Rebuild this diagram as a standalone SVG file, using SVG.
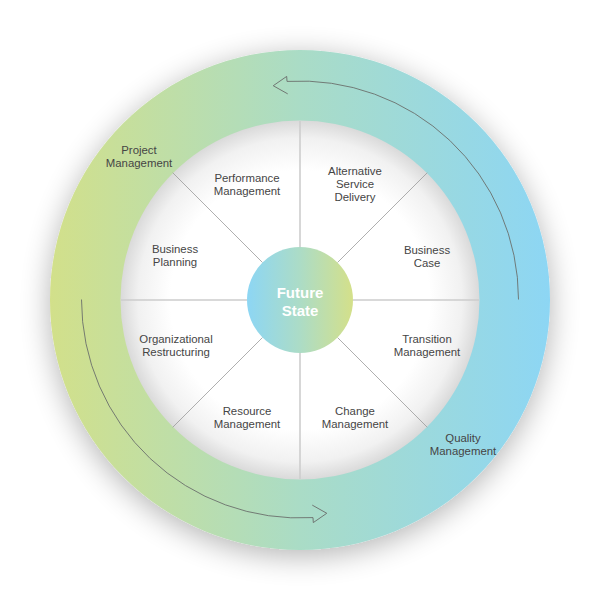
<svg xmlns="http://www.w3.org/2000/svg" width="600" height="600" viewBox="0 0 600 600">
  <defs>
    <linearGradient id="ringGrad" gradientUnits="userSpaceOnUse" x1="50" y1="0" x2="550" y2="0">
      <stop offset="0" stop-color="#d2e08a"/>
      <stop offset="0.5" stop-color="#aadcc6"/>
      <stop offset="1" stop-color="#8dd6f4"/>
    </linearGradient>
    <linearGradient id="coreGrad" gradientUnits="userSpaceOnUse" x1="247" y1="0" x2="353" y2="0">
      <stop offset="0" stop-color="#8dd6f4"/>
      <stop offset="0.5" stop-color="#acdcc6"/>
      <stop offset="1" stop-color="#d4e08a"/>
    </linearGradient>
    <radialGradient id="discGrad" gradientUnits="userSpaceOnUse" cx="300" cy="300" r="180">
      <stop offset="0" stop-color="#ffffff"/>
      <stop offset="0.72" stop-color="#ffffff"/>
      <stop offset="0.9" stop-color="#f1f1f1"/>
      <stop offset="1" stop-color="#d9d9d9"/>
    </radialGradient>
    <filter id="outerShadow" x="-30%" y="-30%" width="160%" height="160%">
      <feGaussianBlur in="SourceAlpha" stdDeviation="15"/>
      <feOffset dx="0" dy="6" result="b"/>
      <feComponentTransfer><feFuncA type="linear" slope="0.3"/></feComponentTransfer>
      <feMerge><feMergeNode/><feMergeNode in="SourceGraphic"/></feMerge>
    </filter>
    <marker id="openHead" markerUnits="userSpaceOnUse" markerWidth="20" markerHeight="24" refX="0" refY="0" viewBox="-2 -15 20 24" orient="auto" overflow="visible">
      <path d="M0,0 L0,5 L14,-3.5 L0,-12.5" fill="none" stroke="#6b6f6c" stroke-width="0.9" stroke-linejoin="miter"/>
    </marker>
  </defs>
  <style>
    .lbl { font-family: "Liberation Sans", Arial, sans-serif; font-size: 11.4px; fill: #454545; text-anchor: middle; }
    .core { font-family: "Liberation Sans", Arial, sans-serif; font-size: 15px; font-weight: bold; fill: #ffffff; text-anchor: middle; }
    .axis { stroke: #cdcdcd; stroke-width: 1.6; }
    .diag { stroke: #9a9a9a; stroke-width: 0.8; }
    .flow { fill: none; stroke: #6b6f6c; stroke-width: 0.9; marker-end: url(#openHead); }
  </style>
  <rect x="0" y="0" width="600" height="600" fill="#ffffff"/>

  <g id="ring">
    <circle cx="300" cy="300" r="250" fill="url(#ringGrad)" filter="url(#outerShadow)"/>
    <circle cx="300" cy="300" r="179.5" fill="url(#discGrad)"/>
    <text class="lbl" x="139" y="154">Project</text>
    <text class="lbl" x="139" y="167">Management</text>
    <text class="lbl" x="463" y="441.5">Quality</text>
    <text class="lbl" x="463" y="454.5">Management</text>
  </g>

  <g id="dividers">
    <line class="axis" x1="300" y1="121" x2="300" y2="247"/>
    <line class="axis" x1="300" y1="353" x2="300" y2="479"/>
    <line class="axis" x1="121" y1="300" x2="247" y2="300"/>
    <line class="axis" x1="353" y1="300" x2="479" y2="300"/>
    <line class="diag" x1="172.7" y1="172.7" x2="262.5" y2="262.5"/>
    <line class="diag" x1="427.3" y1="172.7" x2="337.5" y2="262.5"/>
    <line class="diag" x1="172.7" y1="427.3" x2="262.5" y2="337.5"/>
    <line class="diag" x1="427.3" y1="427.3" x2="337.5" y2="337.5"/>
  </g>

  <g id="connectors">
    <path class="flow" d="M518.5,299.5 A218.5,218.5 0 0 0 287,81.4"/>
    <path class="flow" d="M81.5,299.5 A218.5,218.5 0 0 0 313,517.6"/>
  </g>

  <g id="performance-management">
    <text class="lbl" x="247" y="181.5">Performance</text>
    <text class="lbl" x="247" y="194.5">Management</text>
  </g>
  <g id="alternative-service-delivery">
    <text class="lbl" x="355" y="174.5">Alternative</text>
    <text class="lbl" x="355" y="187.5">Service</text>
    <text class="lbl" x="355" y="200.5">Delivery</text>
  </g>
  <g id="business-case">
    <text class="lbl" x="427" y="254">Business</text>
    <text class="lbl" x="427" y="267">Case</text>
  </g>
  <g id="transition-management">
    <text class="lbl" x="427" y="342.5">Transition</text>
    <text class="lbl" x="427" y="355.5">Management</text>
  </g>
  <g id="change-management">
    <text class="lbl" x="355" y="414.5">Change</text>
    <text class="lbl" x="355" y="427.5">Management</text>
  </g>
  <g id="resource-management">
    <text class="lbl" x="247" y="414.5">Resource</text>
    <text class="lbl" x="247" y="427.5">Management</text>
  </g>
  <g id="organizational-restructuring">
    <text class="lbl" x="176" y="342.5">Organizational</text>
    <text class="lbl" x="176" y="355.5">Restructuring</text>
  </g>
  <g id="business-planning">
    <text class="lbl" x="175" y="253">Business</text>
    <text class="lbl" x="175" y="266">Planning</text>
  </g>

  <g id="future-state">
    <circle cx="300" cy="300" r="53" fill="url(#coreGrad)"/>
    <text class="core" x="300" y="298">Future</text>
    <text class="core" x="300" y="315.5">State</text>
  </g>
</svg>
